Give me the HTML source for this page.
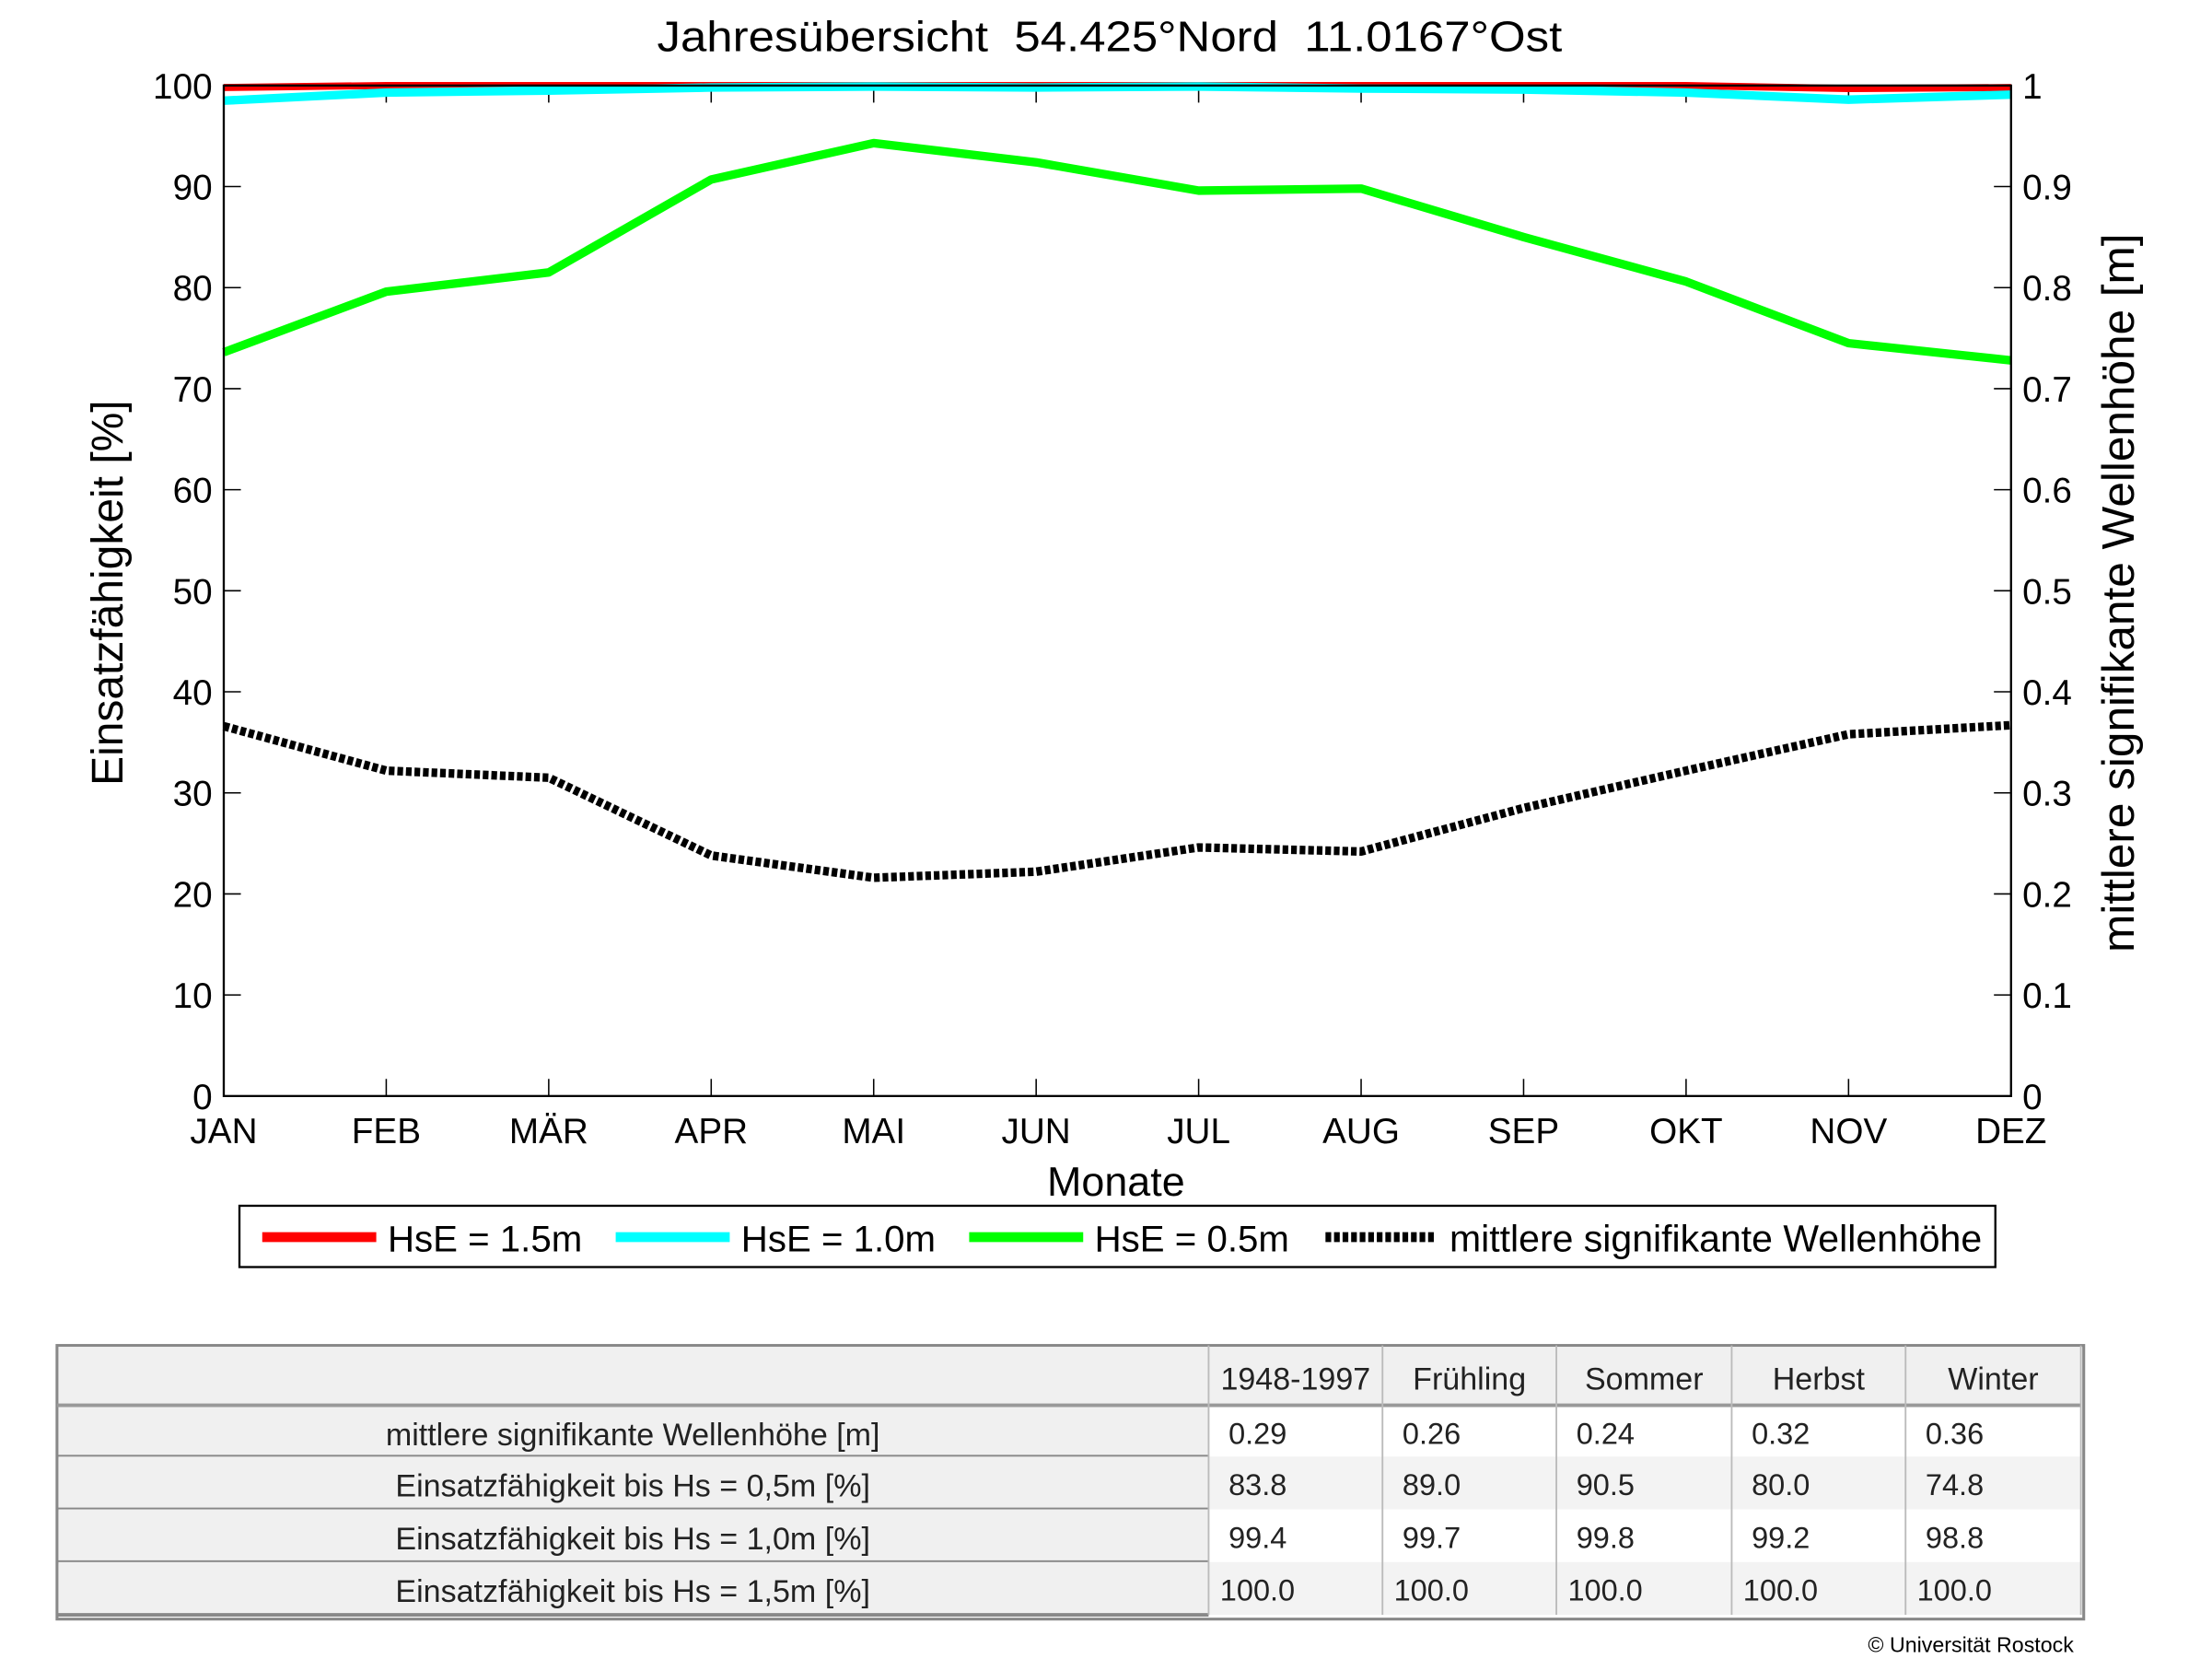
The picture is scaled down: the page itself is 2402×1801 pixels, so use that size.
<!DOCTYPE html>
<html><head><meta charset="utf-8"><style>html,body{margin:0;padding:0;background:#fff}svg{display:block}text{font-family:"Liberation Sans",sans-serif;white-space:pre}</style></head>
<body>
<svg id="chart" width="2402" height="1801" viewBox="0 0 1552 1164" preserveAspectRatio="none" xmlns="http://www.w3.org/2000/svg">
<rect width="1552" height="1164" fill="#fff"/>
<text x="461" y="36" font-size="30" textLength="635" lengthAdjust="spacingAndGlyphs" xml:space="preserve">Jahresübersicht  54.425°Nord  11.0167°Ost</text>
<g id="plot"></g>
<text x="783" y="839" font-size="29" text-anchor="middle">Monate</text>
<text transform="translate(86,416) rotate(-90)" font-size="31" text-anchor="middle">Einsatzfähigkeit [%]</text>
<text transform="translate(1497,416) rotate(-90)" font-size="32" text-anchor="middle">mittlere signifikante Wellenhöhe [m]</text>
<g>
<rect x="168" y="846" width="1232" height="43" fill="#fff" stroke="#000" stroke-width="1.5"/>
<line x1="184" y1="868" x2="264" y2="868" stroke="#f00" stroke-width="7"/>
<text x="272" y="878" font-size="26">HsE = 1.5m</text>
<line x1="432" y1="868" x2="512" y2="868" stroke="#0ff" stroke-width="7"/>
<text x="520" y="878" font-size="26">HsE = 1.0m</text>
<line x1="680" y1="868" x2="760" y2="868" stroke="#0f0" stroke-width="7"/>
<text x="768" y="878" font-size="26">HsE = 0.5m</text>
<line x1="930" y1="868" x2="1008" y2="868" stroke="#000" stroke-width="7" stroke-dasharray="4,2"/>
<text x="1017" y="878" font-size="26.5">mittlere signifikante Wellenhöhe</text>
</g>
<g id="table"></g>
<text x="1455" y="1159" font-size="15" text-anchor="end">© Universität Rostock</text>
</svg>
<script>
const months=["JAN","FEB","MÄR","APR","MAI","JUN","JUL","AUG","SEP","OKT","NOV","DEZ"];
const hs15=[99.8,100,100,100,100,100,100,100,100,100,99.7,99.8];
const hs10=[98.5,99.3,99.5,99.8,99.9,99.8,99.9,99.7,99.6,99.3,98.6,99.1];
const hs05=[73.6,79.6,81.5,90.7,94.3,92.4,89.6,89.8,85.0,80.6,74.5,72.8];
const waveH=[0.366,0.322,0.315,0.238,0.216,0.222,0.246,0.242,0.285,0.322,0.358,0.367];
const leftTicks=[0,10,20,30,40,50,60,70,80,90,100];
const rightTicks=["0","0.1","0.2","0.3","0.4","0.5","0.6","0.7","0.8","0.9","1"];
const tableHeader=["1948-1997","Frühling","Sommer","Herbst","Winter"];
const tableLabels=["mittlere signifikante Wellenhöhe [m]","Einsatzfähigkeit bis Hs = 0,5m [%]","Einsatzfähigkeit bis Hs = 1,0m [%]","Einsatzfähigkeit bis Hs = 1,5m [%]"];
const tableValues=[["0.29","0.26","0.24","0.32","0.36"],["83.8","89.0","90.5","80.0","74.8"],["99.4","99.7","99.8","99.2","98.8"],["100.0","100.0","100.0","100.0","100.0"]];

const NS="http://www.w3.org/2000/svg";
const X0=157,X1=1411,Y0=769,Y1=60;
const xs=i=>X0+(X1-X0)*i/(months.length-1);
const yp=v=>Y0-(Y0-Y1)*v/100;
const ym=v=>Y0-(Y0-Y1)*v/1;
function mk(tag,attrs,parent){const e=document.createElementNS(NS,tag);for(const k in attrs)e.setAttribute(k,attrs[k]);parent.appendChild(e);return e;}
const plot=document.getElementById('plot');
leftTicks.forEach((t,i)=>{
  const y=yp(t);
  const l=mk('line',{x1:X0,y1:y,x2:X0+12,y2:y,stroke:'#000'},plot);
  
  
  mk('line',{x1:X1,y1:y,x2:X1-12,y2:y,stroke:'#000'},plot);
  const tx=mk('text',{x:X0-8,y:y+9,'font-size':25,'text-anchor':'end'},plot);tx.textContent=t;
  
  
  const tr=mk('text',{x:X1+8,y:y+9,'font-size':25},plot);tr.textContent=rightTicks[i];
  
  
});
months.forEach((m,i)=>{
  const x=xs(i);
  mk('line',{x1:x,y1:Y0,x2:x,y2:Y0-12,stroke:'#000'},plot);
  mk('line',{x1:x,y1:Y1,x2:x,y2:Y1+12,stroke:'#000'},plot);
  const t=mk('text',{x:x,y:802,'font-size':25,'text-anchor':'middle'},plot);t.textContent=m;
  
  
});
function series(vals,f,color,w,dash,name){
  const p=mk('polyline',{points:vals.map((v,i)=>xs(i)+','+f(v)).join(' '),fill:'none',stroke:color,'stroke-width':w,'stroke-linejoin':'round'},plot);
  if(dash)p.setAttribute('stroke-dasharray',dash);
  
  
}
series(hs15,yp,'#f00',5,null,'line-hse-1-5m');
series(hs10,yp,'#0ff',6,null,'line-hse-1-0m');
series(hs05,yp,'#0f0',6,null,'line-hse-0-5m');
series(waveH,ym,'#000',6,'4,2','line-wave-height');
const frame=mk('rect',{x:X0,y:Y1,width:X1-X0,height:Y0-Y1,fill:'none',stroke:'#000','stroke-width':1.5},plot);



const tb=document.getElementById('table');
const colX=[848,970,1092,1215,1337,1460];
const rowY=[944,986,1022,1059,1096,1133];
mk('rect',{x:40,y:944,width:1422,height:192,fill:'#fff',stroke:'#888','stroke-width':2},tb);
mk('rect',{x:41,y:945,width:1419,height:41,fill:'#f0f0f0'},tb);
for(let r=0;r<4;r++){
  mk('rect',{x:41,y:rowY[r+1],width:807,height:rowY[r+2]-rowY[r+1],fill:'#f0f0f0'},tb);
  mk('rect',{x:848,y:rowY[r+1],width:612,height:rowY[r+2]-rowY[r+1],fill:r%2?'#f3f3f3':'#fff'},tb);
  mk('line',{x1:40,y1:rowY[r+2],x2:848,y2:rowY[r+2],stroke:'#888','stroke-width':2.5},tb);
}
mk('line',{x1:40,y1:986,x2:1460,y2:986,stroke:'#999','stroke-width':2.5},tb);
for(let c=0;c<colX.length;c++)mk('line',{x1:colX[c],y1:944,x2:colX[c],y2:1133,stroke:'#bbb','stroke-width':1.2},tb);
tableHeader.forEach((h,c)=>{const t=mk('text',{x:(colX[c]+colX[c+1])/2,y:975,'font-size':22,'text-anchor':'middle',fill:'#222'},tb);t.textContent=h;
  
  });
tableLabels.forEach((l,r)=>{const t=mk('text',{x:444,y:rowY[r+1]+28,'font-size':22,'text-anchor':'middle',fill:'#222'},tb);t.textContent=l;
  
  
  tableValues[r].forEach((v,c)=>{const tv=mk('text',{x:colX[c]+(v.length>4?8:14),y:rowY[r+1]+27,'font-size':21,fill:'#222'},tb);tv.textContent=v;
    
    });
});
</script>
</body></html>
